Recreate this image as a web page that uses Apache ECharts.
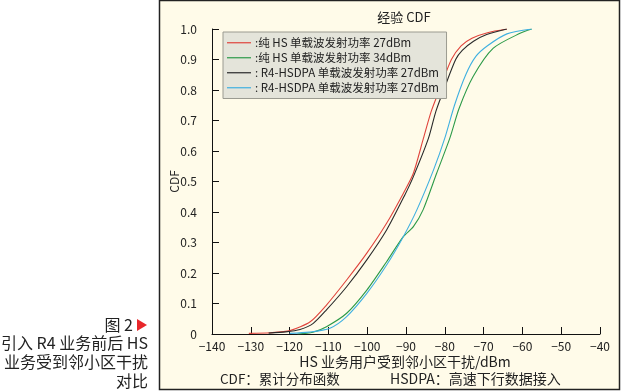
<!DOCTYPE html>
<html>
<head>
<meta charset="utf-8">
<script src="https://cdn.jsdelivr.net/npm/echarts@6/dist/echarts.min.js"></script>
<style>
html,body{margin:0;padding:0;background:#fff;}
#c{width:621px;height:391px;}
</style>
</head>
<body>
<div id="c"></div>
<script>
var xTicks = [-140,-130,-120,-110,-100,-90,-80,-70,-60,-50,-40];
var yTicks = [0,0.1,0.2,0.3,0.4,0.5,0.6,0.7,0.8,0.9,1.0];
var seriesNames = [
  ':纯 HS 单载波发射功率 27dBm',
  ':纯 HS 单载波发射功率 34dBm',
  ': R4-HSDPA 单载波发射功率 27dBm',
  ': R4-HSDPA 单载波发射功率 27dBm '
];
var redData = [[-130.5,0.002],[-125,0.004],[-119.9,0.011],[-114.7,0.04],[-110.5,0.095],[-105.3,0.177],[-100.1,0.265],[-95,0.363],[-90.7,0.461],[-88.1,0.527],[-85.5,0.642],[-83.5,0.73],[-81.1,0.81],[-78.3,0.9],[-75.8,0.945],[-73,0.97],[-69,0.988],[-64,1.0]];
var greenData = [[-118,0.0],[-114,0.006],[-110.5,0.024],[-105.3,0.068],[-100.1,0.144],[-95,0.237],[-90.7,0.319],[-88.1,0.352],[-85.6,0.407],[-82.1,0.527],[-78.7,0.642],[-76.3,0.74],[-72.7,0.844],[-67.5,0.937],[-60.6,0.986],[-57.6,1.0]];
var blackData = [[-125.4,0.003],[-121,0.007],[-117.3,0.015],[-113.9,0.035],[-110.5,0.079],[-105.3,0.155],[-100.1,0.243],[-95,0.341],[-90.3,0.456],[-88.1,0.516],[-84.2,0.642],[-82.3,0.73],[-80,0.81],[-77.2,0.9],[-75.5,0.93],[-72.6,0.96],[-69.2,0.982],[-64,1.0]];
var cyanData = [[-120,0.002],[-115,0.006],[-109.6,0.019],[-105.3,0.057],[-100.1,0.133],[-95,0.226],[-90.7,0.319],[-87.2,0.407],[-82.9,0.538],[-80,0.642],[-77.5,0.75],[-74.6,0.85],[-72,0.91],[-69,0.945],[-64,0.984],[-57.6,1.0]];
var colors = ['#e0443c','#2c9a48','#2a2a2a','#3fb0e0'];

var chart = echarts.init(document.getElementById('c'), null, {renderer:'canvas'});
var font = '"Noto Sans CJK SC", "DejaVu Sans", sans-serif';
function mk(name, data, color){
  return {name:name, type:'line', data:data, smooth:0.25, symbol:'none',
    lineStyle:{color:color, width:1.1}, itemStyle:{color:color}, z:3};
}
chart.setOption({
  animation:false,
  backgroundColor:'#ffffff',
  textStyle:{fontFamily:font},
  graphic:[
    {type:'rect', z:-10, shape:{x:159.5,y:0.5,width:460,height:389}, style:{fill:'#fffbe9', stroke:'#222', lineWidth:1.5}},
    {type:'text', x:404, y:17, style:{text:'经验 CDF', font:'13px '+font, fill:'#222', align:'center', verticalAlign:'middle'}},
    {type:'text', x:405, y:362, style:{text:'HS 业务用户受到邻小区干扰/dBm', font:'14px '+font, fill:'#222', align:'center', verticalAlign:'middle'}},
    {type:'text', x:220, y:379, style:{text:'CDF：累计分布函数', font:'13.5px '+font, fill:'#222', align:'left', verticalAlign:'middle'}},
    {type:'text', x:390, y:379, style:{text:'HSDPA：高速下行数据接入', font:'14px '+font, fill:'#222', align:'left', verticalAlign:'middle'}},
    {type:'text', x:133, y:325, style:{text:'图 2', font:'16px '+font, fill:'#222', align:'right', verticalAlign:'middle'}},
    {type:'polygon', shape:{points:[[137,319],[147,325],[137,331]]}, style:{fill:'#e8262a'}},
    {type:'text', x:148, y:343, style:{text:'引入 R4 业务前后 HS', font:'16px '+font, fill:'#222', align:'right', verticalAlign:'middle'}},
    {type:'text', x:148, y:362, style:{text:'业务受到邻小区干扰', font:'16px '+font, fill:'#222', align:'right', verticalAlign:'middle'}},
    {type:'text', x:148, y:381, style:{text:'对比', font:'16px '+font, fill:'#222', align:'right', verticalAlign:'middle'}}
  ],
  legend:{
    left:223, top:32, orient:'vertical', itemGap:3.5,
    itemWidth:24, itemHeight:12, icon:'path://M0,5.5L24,5.5L24,6.7L0,6.7Z',
    backgroundColor:'#e4e4da', borderColor:'#9a9a90', borderWidth:1,
    padding:[5,5,5,4],
    textStyle:{fontSize:11.5, color:'#222', fontFamily:font, padding:[0,0,0,-1]},
    data:seriesNames.map(function(n,i){return {name:n, itemStyle:{color:colors[i]}};})
  },
  grid:{left:212, right:21, top:29, bottom:57, containLabel:false},
  xAxis:{
    type:'value', min:-140, max:-40, interval:10,
    axisLine:{show:true, lineStyle:{color:'#111', width:1}},
    axisTick:{show:true, inside:true, length:7, lineStyle:{color:'#111'}},
    axisLabel:{color:'#222', fontSize:12, margin:6, fontFamily:font,
      formatter:function(v){return v<0 ? '\u2212'+Math.abs(v) : String(v);}},
    splitLine:{show:false}
  },
  yAxis:{
    type:'value', min:0, max:1, interval:0.1,
    name:'CDF', nameLocation:'middle', nameGap:32, nameRotate:90, nameMoveOverlap:false,
    nameTextStyle:{color:'#222', fontSize:12, fontFamily:font},
    axisLine:{show:true, lineStyle:{color:'#111', width:1}},
    axisTick:{show:true, inside:true, length:7, lineStyle:{color:'#111'}},
    axisLabel:{color:'#222', fontSize:12, margin:15, fontFamily:font,
      formatter:function(v){return v===0 ? '0' : v.toFixed(1);}},
    splitLine:{show:false}
  },
  series:[
    mk(seriesNames[0], redData, colors[0]),
    mk(seriesNames[1], greenData, colors[1]),
    mk(seriesNames[2], blackData, colors[2]),
    mk(seriesNames[3], cyanData, colors[3])
  ]
});
</script>
</body>
</html>
